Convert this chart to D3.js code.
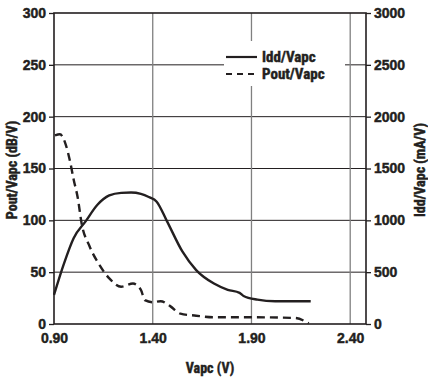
<!DOCTYPE html>
<html><head><meta charset="utf-8">
<script src="https://cdn.jsdelivr.net/npm/d3@7"></script>
<style>
body{margin:0;background:#fff;}
text{font-family:"Liberation Sans Narrow","Arial Narrow","Roboto Condensed",sans-serif;font-weight:bold;fill:#231f20;stroke:#231f20;stroke-width:0.45px;}
</style></head><body>
<svg id="c" width="428" height="383"></svg>
<script>
const xTicks = [0.90, 1.40, 1.90, 2.40];
const leftTicks = [0, 50, 100, 150, 200, 250, 300];
const rightTicks = [0, 500, 1000, 1500, 2000, 2500, 3000];
const iddX = [0.90, 0.95, 1.00, 1.06, 1.12, 1.18, 1.24, 1.29, 1.34, 1.38, 1.42, 1.47, 1.55, 1.62, 1.71, 1.78, 1.84, 1.86, 1.93, 2.02, 2.10, 2.20];
const iddY = [280, 580, 830, 990, 1150, 1240, 1265, 1268, 1255, 1225, 1180, 1000, 700, 520, 390, 330, 300, 270, 235, 220, 220, 220];
const poutX = [0.905, 0.93, 0.956, 0.98, 1.00, 1.02, 1.04, 1.08, 1.13, 1.18, 1.24, 1.30, 1.34, 1.36, 1.40, 1.44, 1.49, 1.54, 1.62, 1.71, 1.88, 2.12, 2.19];
const poutY = [182, 183, 175, 158, 139, 122, 97, 75, 57, 44, 36, 39, 33, 23, 21, 22, 17, 10, 8, 6.5, 6.5, 5.8, 0.7];
const legendLabels = ["Idd/Vapc", "Pout/Vapc"];

const svg = d3.select("#c");
const L = 54, R = 366, T = 13, B = 324;
const x = d3.scaleLinear().domain([0.9, 2.48]).range([L, R]);
const yL = d3.scaleLinear().domain([0, 300]).range([B, T]);
const yR = d3.scaleLinear().domain([0, 3000]).range([B, T]);

// gridlines
svg.append("g").selectAll("line").data(leftTicks.slice(1, -1)).join("line")
  .attr("x1", L).attr("x2", R).attr("y1", d => yL(d)).attr("y2", d => yL(d))
  .attr("stroke", "#231f20").attr("stroke-width", 1);
svg.append("g").selectAll("line").data(xTicks.slice(1)).join("line")
  .attr("x1", d => x(d)).attr("x2", d => x(d)).attr("y1", T).attr("y2", B)
  .attr("stroke", "#808080").attr("stroke-width", 1.3);

// legend background
svg.append("rect").attr("x", 224).attr("y", 41).attr("width", 121).attr("height", 45).attr("fill", "#fff");

// frame
svg.append("rect").attr("x", L).attr("y", T).attr("width", R - L).attr("height", B - T)
  .attr("fill", "none").attr("stroke", "#231f20").attr("stroke-width", 1.6);

// axes
const fs = "14px";
const ax = d3.axisLeft(yL).tickValues(leftTicks).tickSize(5).tickPadding(3).tickFormat(d3.format("d"));
const gL = svg.append("g").attr("transform", `translate(${L},0)`).call(ax);
const ar = d3.axisRight(yR).tickValues(rightTicks).tickSize(5).tickPadding(3).tickFormat(d3.format("d"));
const gR = svg.append("g").attr("transform", `translate(${R},0)`).call(ar);
const ab = d3.axisBottom(x).tickValues(xTicks).tickSize(0).tickPadding(9).tickFormat(d3.format(".2f"));
const gB = svg.append("g").attr("transform", `translate(0,${B})`).call(ab);
[gL, gR, gB].forEach(g => {
  g.select(".domain").remove();
  g.selectAll("line").attr("stroke", "#231f20").attr("stroke-width", 1.3);
  g.selectAll("text").style("font-size", fs).attr("fill", "#231f20")
   .style("font-family", '"Liberation Sans Narrow","Arial Narrow",sans-serif').style("font-weight", "bold");
});

// curves
const line = d3.line().curve(d3.curveMonotoneX);
svg.append("path").attr("d", line(iddX.map((v, i) => [x(v), yR(iddY[i])])))
  .attr("fill", "none").attr("stroke", "#231f20").attr("stroke-width", 2.4).attr("stroke-linejoin", "round");
svg.append("path").attr("d", line(poutX.map((v, i) => [x(v), yL(poutY[i])])))
  .attr("fill", "none").attr("stroke", "#231f20").attr("stroke-width", 2.4).attr("stroke-dasharray", "8,5");

// legend
const lg = svg.append("g");
legendLabels.forEach((t, i) => {
  const yy = 57 + i * 17;
  lg.append("line").attr("x1", 226).attr("x2", 257).attr("y1", yy).attr("y2", yy)
    .attr("stroke", "#231f20").attr("stroke-width", 2.2).attr("stroke-dasharray", i ? "6,5" : null);
  lg.append("text").attr("x", 262).attr("y", yy + 5).style("font-size", "15px").text(t);
});

// titles
svg.append("text").attr("x", 210).attr("y", 373).attr("text-anchor", "middle").style("font-size", "14px").text("Vapc (V)");
svg.append("text").attr("transform", "translate(17,170) rotate(-90)").attr("text-anchor", "middle").style("font-size", "14px").text("Pout/Vapc (dB/V)");
svg.append("text").attr("transform", "translate(425,170) rotate(-90)").attr("text-anchor", "middle").style("font-size", "14px").text("Idd/Vapc (mA/V)");
</script></body></html>
